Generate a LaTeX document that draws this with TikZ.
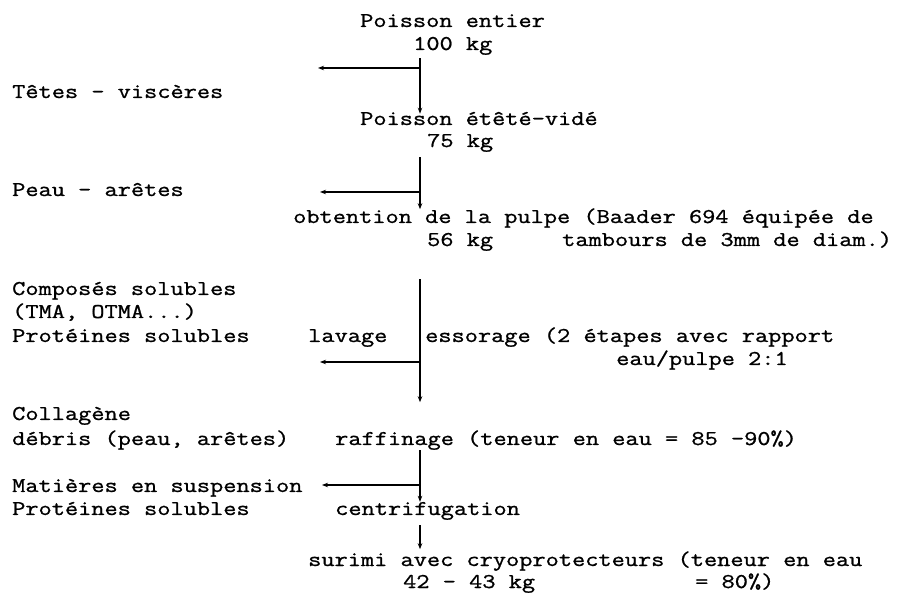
\documentclass[tikz,border=0pt]{standalone}
\usepackage{fontspec}
\setmonofont[FakeStretch=1.22,FakeBold=1]{Latin Modern Mono}
\usetikzlibrary{arrows.meta}
\tikzset{
  txt/.style={anchor=base west, inner sep=0pt, font=\ttfamily\fontsize{21}{24}\selectfont},
  fleche/.style={-{Stealth[length=6pt,width=4.5pt]}, line width=1.2pt},
}
\begin{document}
\begin{tikzpicture}[x=1pt,y=-1pt]
            \useasboundingbox (0,0) rectangle (903,593);
            % Axe de la chaine
            \coordinate (axe) at (420,0);
            % Etapes
            \node[txt] (entier) at (360,27) {Poisson entier};
            \node[txt] (kgA) at (413,50) {100 kg};
            \node[txt] (vide) at (360,125) {Poisson étêté-vidé};
            \node[txt] (kgB) at (427,147) {75 kg};
            \node[txt] (pulpe) at (293,223) {obtention de la pulpe (Baader 694 équipée de};
            \node[txt] (kgC) at (427,246) {56 kg};
            \node[txt] (tamb) at (562,246) {tambours de 3mm de diam.)};
            \node[txt] (lavage) at (308,342) {lavage};
            \node[txt] (essor) at (425,342) {essorage (2 étapes avec rapport};
            \node[txt] (ratio) at (616,365) {eau/pulpe 2:1};
            \node[txt] (raff) at (335,445) {raffinage (teneur en eau = 85 -90\%)};
            \node[txt] (centri) at (335,515) {centrifugation};
            \node[txt] (surimi) at (308,566) {surimi avec cryoprotecteurs (teneur en eau};
            \node[txt] (kgD) at (403,588) {42 - 43 kg};
            \node[txt] (eau) at (695,588) {= 80\%)};
            % Sous-produits
            \foreach \n/\y/\t in {tetes/98/{Têtes - viscères}, peau/196/{Peau - arêtes},
                compo/295/{Composés solubles}, tma/318/{(TMA, OTMA...)}, protA/342/{Protéines solubles},
                colla/420/{Collagène}, debris/445/{débris (peau, arêtes)},
                matieres/492/{Matières en suspension}, protB/515/{Protéines solubles}} {
                \node[txt] (\n) at (12,\y) {\t};
            }
            % Fleches verticales
            \draw[fleche] ([yshift=-3pt]kgA.south -| axe) -- ([yshift=-2pt]vide.north -| axe);
            \draw[fleche] ([yshift=-5pt]kgB.south -| axe) -- ([yshift=-1pt]pulpe.north -| axe);
            \draw[fleche] ([yshift=-28pt]kgC.south -| axe) -- ([yshift=28pt]raff.north -| axe);
            \draw[fleche] (raff.south -| axe) -- (centri.north -| axe);
            \draw[fleche] ([yshift=-5pt]centri.south -| axe) -- ([yshift=2pt]surimi.north -| axe);
            % Sorties
            \foreach \c/\x/\y in {sortieA/318/68, sortieB/320/192, sortieC/320/362, sortieD/322/485} {
                \coordinate (\c) at (\x,\y);
                \draw[fleche] (\c -| axe) -- (\c);
            }
        \end{tikzpicture}
\end{document}
